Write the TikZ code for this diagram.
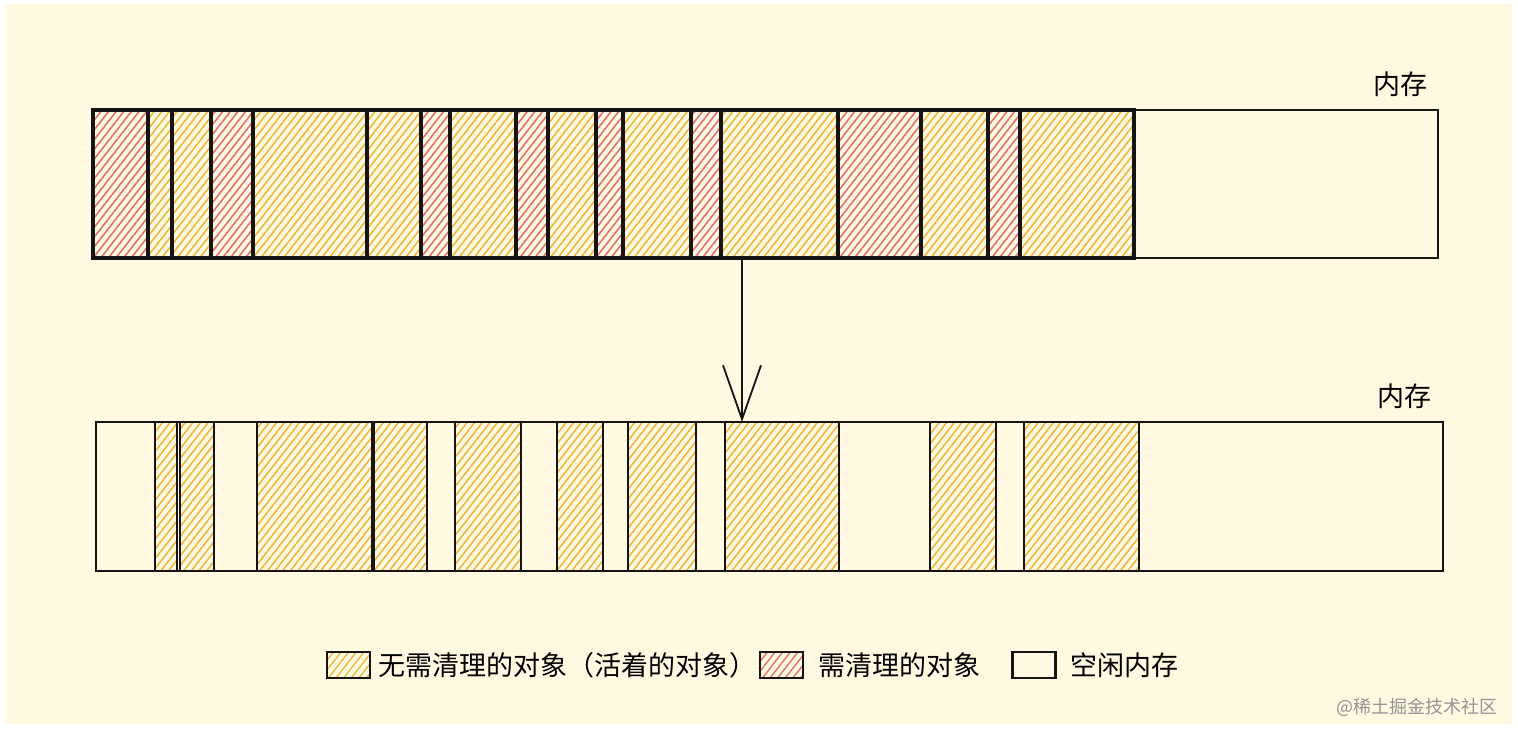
\documentclass[tikz,border=0pt]{standalone}
\usepackage{fontspec}
\setmainfont{Noto Sans CJK SC}
\usepackage{tikz}
\usetikzlibrary{arrows.meta,positioning,patterns.meta}
\definecolor{Paper}{RGB}{255,249,226}
\definecolor{LiveHatch}{RGB}{236,184,66}
\definecolor{DeadHatch}{RGB}{226,112,112}
\colorlet{Ink}{black!92}
\colorlet{Mark}{black!42}

\begin{document}
\begin{tikzpicture}[
    x=0.5pt, y=-0.5pt,
    objbox/.style={draw=Ink, rectangle, inner sep=0pt, outer sep=0pt, anchor=north west,
      pattern={Lines[angle=52,distance=3pt,line width=0.8pt]}},
    toprow/.style={objbox, line width=1.6pt, minimum height=74pt},
    bottomrow/.style={objbox, line width=1.2pt, minimum height=74.5pt, pattern color=LiveHatch},
    freemem/.style={draw=Ink, rectangle, inner sep=0pt, outer sep=0pt, anchor=north west, line width=0.8pt},
    swatch/.style={draw=Ink, rectangle, line width=1.3pt, minimum width=21.5pt, minimum height=13pt, inner sep=0pt,
      pattern={Lines[angle=52,distance=3pt,line width=0.7pt]}},
    every node/.style={font={\fontsize{13.5}{16}\selectfont}},
    legendtext/.style={inner sep=0pt},
    gcarrow/.style={draw=Ink, line width=0.9pt, -{Straight Barb[length=27pt,width=19pt,line width=0.9pt]}}
  ]
  \useasboundingbox (0,0) rectangle (1518,728);
  \fill[white] (0,0) rectangle (1518,728);
  \fill[Paper] (6,4) rectangle (1512,724);

  % memory before collection
  \node[freemem, minimum width=152pt, minimum height=74pt] (topfree) at (1134,110) {};
  \foreach \a/\b/\hatch [count=\i] in {93/148/DeadHatch, 148/172/LiveHatch, 172/211/LiveHatch,
      211/253/DeadHatch, 253/367/LiveHatch, 367/421/LiveHatch, 421/450/DeadHatch, 450/516/LiveHatch,
      516/548/DeadHatch, 548/596/LiveHatch, 596/623/DeadHatch, 623/691/LiveHatch, 691/721/DeadHatch,
      721/838/LiveHatch, 838/921/DeadHatch, 921/988/LiveHatch, 988/1020/DeadHatch, 1020/1134/LiveHatch}
  {
    \pgfmathsetlengthmacro\w{(\b-\a)*0.5pt}
    \node[toprow, minimum width=\w, pattern color=\hatch] (top\i) at (\a,110) {};
  }
  \node (toplabel) at (1400,84) {内存};

  % memory after collection
  \node[freemem, minimum width=673.5pt, minimum height=74.5pt] (bottomfree) at (96,422) {};
  \foreach \a/\b [count=\i] in {155/177, 180/214, 257/372, 374/427, 455/521,
      557/603, 628/696, 725/839, 930/996, 1024/1139}
  {
    \pgfmathsetlengthmacro\w{(\b-\a)*0.5pt}
    \node[bottomrow, minimum width=\w] (bottom\i) at (\a,422) {};
  }
  \node (bottomlabel) at (1404,396) {内存};

  \draw[gcarrow] ([xshift=10.5pt]top14.south west) -- ([xshift=8.5pt]bottom8.north west);

  % legend
  \node[swatch, pattern color=LiveHatch] (liveswatch) at (348.5,665) {};
  \node[legendtext, right=3.5pt of liveswatch] (livetext) {无需清理的对象（活着的对象）};
  \node[swatch, pattern color=DeadHatch] (deadswatch) at (781.5,665) {};
  \node[legendtext, right=7pt of deadswatch] (deadtext) {需清理的对象};
  \node[swatch, pattern=none, fill=Paper] (freeswatch) at (1034,665) {};
  \node[legendtext, right=6.5pt of freeswatch] (freetext) {空闲内存};

  \node[text=Mark, font={\fontsize{9}{11}\selectfont}] (watermark) at (1417,707) {@稀土掘金技术社区};
\end{tikzpicture}
\end{document}
